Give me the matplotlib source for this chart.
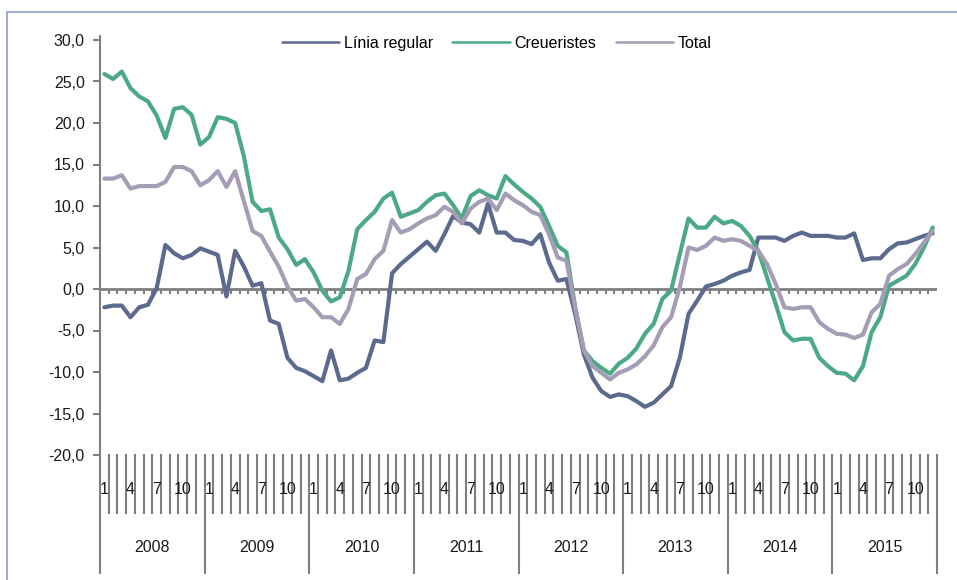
import matplotlib
matplotlib.use("Agg")
import matplotlib.pyplot as plt
import matplotlib.transforms as mtransforms
from matplotlib.patches import Rectangle
import numpy as np

years = ["2008", "2009", "2010", "2011", "2012", "2013", "2014", "2015"]
month_labels = ["1", "", "", "4", "", "", "7", "", "", "10", "", ""]

linia_regular = [
    -2.2, -2.0, -2.0, -3.4, -2.2, -1.9, 0.1, 5.3, 4.3, 3.7, 4.1, 4.9,
    4.5, 4.1, -0.9, 4.6, 2.7, 0.4, 0.7, -3.8, -4.2, -8.3, -9.5, -9.9,
    -10.5, -11.1, -7.4, -11.0, -10.8, -10.1, -9.5, -6.2, -6.4, 1.9, 3.0, 3.9,
    4.8, 5.7, 4.6, 6.6, 8.8, 8.0, 7.8, 6.8, 10.3, 6.8, 6.8, 5.9,
    5.8, 5.4, 6.6, 3.2, 1.0, 1.2, -3.0, -7.9, -10.7, -12.3, -13.0, -12.7,
    -12.9, -13.5, -14.2, -13.7, -12.7, -11.7, -8.3, -3.0, -1.4, 0.3, 0.6, 1.0,
    1.6, 2.0, 2.3, 6.2, 6.2, 6.2, 5.8, 6.4, 6.8, 6.4, 6.4, 6.4,
    6.2, 6.2, 6.7, 3.5, 3.7, 3.7, 4.8, 5.5, 5.6, 6.0, 6.4, 6.7,
]
creueristes = [
    25.9, 25.3, 26.2, 24.2, 23.2, 22.6, 20.9, 18.2, 21.7, 21.9, 21.0, 17.4,
    18.3, 20.7, 20.5, 20.0, 16.0, 10.5, 9.4, 9.6, 6.2, 4.8, 2.9, 3.6,
    2.0, -0.2, -1.5, -1.0, 2.2, 7.2, 8.3, 9.3, 10.9, 11.6, 8.7, 9.1,
    9.5, 10.5, 11.3, 11.5, 10.1, 8.5, 11.2, 11.9, 11.3, 10.9, 13.6, 12.6,
    11.7, 10.9, 9.9, 7.6, 5.2, 4.4, -2.2, -7.4, -8.7, -9.5, -10.2, -9.0,
    -8.3, -7.2, -5.4, -4.2, -1.2, -0.2, 4.2, 8.5, 7.4, 7.4, 8.7, 7.9,
    8.2, 7.6, 6.4, 4.6, 1.4, -1.8, -5.2, -6.2, -6.0, -6.0, -8.3, -9.3,
    -10.1, -10.2, -11.0, -9.3, -5.2, -3.4, 0.4, 1.0, 1.6, 3.0, 5.0, 7.4,
]
total = [
    13.3, 13.3, 13.7, 12.1, 12.4, 12.4, 12.4, 12.9, 14.7, 14.7, 14.2, 12.5,
    13.1, 14.2, 12.3, 14.2, 10.6, 7.0, 6.4, 4.5, 2.7, 0.3, -1.4, -1.2,
    -2.2, -3.4, -3.4, -4.2, -2.4, 1.2, 1.8, 3.6, 4.6, 8.3, 6.8, 7.2,
    7.9, 8.5, 8.9, 9.9, 9.3, 7.9, 9.7, 10.5, 10.9, 9.5, 11.5, 10.7,
    10.1, 9.3, 8.9, 6.6, 3.8, 3.4, -2.2, -7.4, -9.3, -10.1, -10.9, -10.1,
    -9.7, -9.1, -8.1, -6.8, -4.6, -3.4, 0.2, 5.0, 4.7, 5.2, 6.2, 5.8,
    6.0, 5.8, 5.2, 4.6, 3.0, 0.6, -2.2, -2.4, -2.2, -2.2, -4.0, -4.8,
    -5.4, -5.5, -5.9, -5.5, -2.8, -1.8, 1.6, 2.4, 3.0, 4.2, 5.6, 7.0,
]
series_names = ["Línia regular", "Creueristes", "Total"]
series_colors = ["#5B6A8D", "#4CA985", "#A59CB5"]

plt.rcParams["font.family"] = ["Liberation Sans", "DejaVu Sans"]

W, H = 957, 580
fig = plt.figure(figsize=(W / 100, H / 100), dpi=100)
fig.patch.set_facecolor("white")

# outer border
fig.add_artist(Rectangle((7 / W, -0.05), 1.2, 1 - 12 / H + 0.05,
                         transform=fig.transFigure, fill=False,
                         edgecolor="#8E9BC6", linewidth=1.2))

left, right, top, bottom = 100, 937, 40, 455
ax = fig.add_axes([left / W, 1 - bottom / H, (right - left) / W, (bottom - top) / H])

n = len(total)
x = np.arange(n) + 0.5
for vals, name, col in zip([linia_regular, creueristes, total], series_names, series_colors):
    ax.plot(x, vals, color=col, lw=3.0, label=name, solid_joinstyle="round",
            solid_capstyle="round", zorder=3)

ax.set_xlim(0, n)
ax.set_ylim(-20, 30)
ax.set_yticks(np.arange(-20, 31, 5))
ax.set_yticklabels([f"{v:.1f}".replace(".", ",") for v in np.arange(-20, 31, 5)])
ax.tick_params(axis="y", length=5, width=1.5, color="#7F7F7F", pad=6,
               labelsize=11.5, labelcolor="#1A1A1A")
ax.set_xticks([])
for s in ["top", "right", "bottom", "left"]:
    ax.spines[s].set_visible(False)

grey = "#7F7F7F"
# zero line with small ticks
ax.axhline(0, color=grey, lw=2, zorder=2)
ax.vlines(np.arange(1, n), -0.65, 0, color=grey, lw=1.5, zorder=2)

# category axis area below the plot
trans = mtransforms.blended_transform_factory(ax.transData, ax.transAxes)
h_px = bottom - top
y_month_bot = -(513 - bottom) / h_px
y_year_bot = -(573 - bottom) / h_px
ax.plot([0, 0], [y_year_bot, 1.01], transform=trans, color=grey, lw=1.5, clip_on=False)
for k in range(1, n + 1):
    yb = y_year_bot if k % 12 == 0 else y_month_bot
    ax.plot([k, k], [0, yb], transform=trans, color=grey, lw=1.5, clip_on=False)

y_mlab = -(490 - bottom) / h_px
y_ylab = -(548 - bottom) / h_px
for yi, yr in enumerate(years):
    for mi, ml in enumerate(month_labels):
        if ml:
            ax.text(yi * 12 + mi + 0.5, y_mlab, ml, transform=trans, ha="center",
                    va="center", fontsize=11.5, color="#1A1A1A", clip_on=False)
    ax.text(yi * 12 + 6, y_ylab, yr, transform=trans, ha="center", va="center",
            fontsize=11.5, color="#1A1A1A", clip_on=False)

leg = ax.legend(loc="center", bbox_to_anchor=(0.474, 0.992), ncol=3, frameon=False,
                fontsize=11.5, handlelength=3.6, columnspacing=1.2, handletextpad=0.3)
for line in leg.get_lines():
    line.set_linewidth(1.8)

fig.savefig("out.png", dpi=100, facecolor="white")
